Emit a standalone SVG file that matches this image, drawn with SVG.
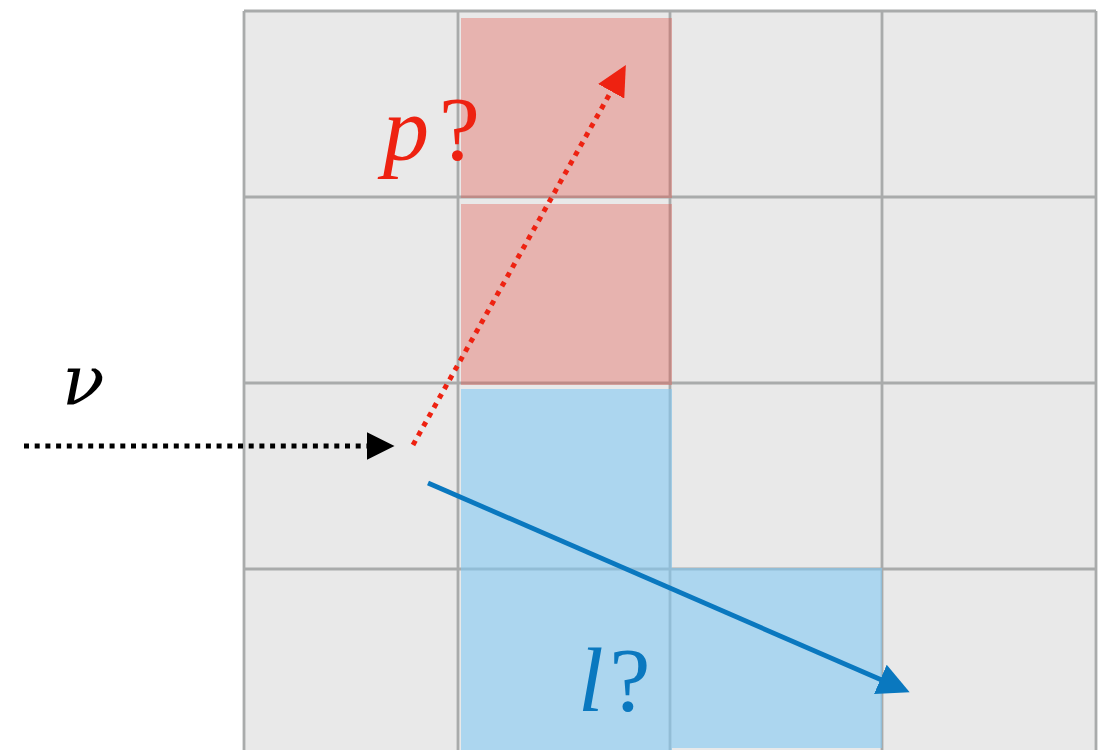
<svg xmlns="http://www.w3.org/2000/svg" width="1102" height="750" viewBox="0 0 1102 750">
<defs>
<style>
.grid{stroke:#a9abab;stroke-width:2.8;fill:none}
.lbl{font-family:"Liberation Serif","Times New Roman",serif;font-size:92px}
.nu{font-family:"DejaVu Serif",serif;font-size:70px;font-style:italic}
</style>
<marker id="ahRed" viewBox="0 0 8 8" refX="1" refY="4" markerWidth="30" markerHeight="30" orient="auto" markerUnits="userSpaceOnUse"><path d="M0,0 L8,4 L0,8 z" fill="#ee2211"/></marker>
<marker id="ahBlue" viewBox="0 0 8 8" refX="1" refY="4" markerWidth="32" markerHeight="32" orient="auto" markerUnits="userSpaceOnUse"><path d="M0,0 L8,4 L0,8 z" fill="#0a78bf"/></marker>
<marker id="ahBlk" viewBox="0 0 8 8" refX="1" refY="4" markerWidth="28" markerHeight="28" orient="auto" markerUnits="userSpaceOnUse"><path d="M0,0 L8,4 L0,8 z" fill="#000"/></marker>
</defs>
<rect width="1102" height="750" fill="#fff"/>
<g id="grid">
<rect x="244" y="11" width="852" height="745" fill="#e9e9e9"/>
<path class="grid" d="M244,11 V756 M458,11 V756 M670,11 V756 M882,11 V756 M1096,11 V756 M244,11 H1096 M244,197 H1096 M244,383 H1096 M244,569 H1096"/>
</g>
<g id="cells">
<rect id="red1" x="461" y="18" width="211" height="180" fill="rgb(230,80,70)" fill-opacity="0.35"/>
<rect id="red2" x="461" y="204" width="211" height="181" fill="rgb(230,80,70)" fill-opacity="0.35"/>
<rect id="blue1" x="461" y="389" width="211" height="361" fill="rgb(131,201,243)" fill-opacity="0.6"/>
<rect id="blue2" x="672" y="568" width="210" height="180" fill="rgb(131,201,243)" fill-opacity="0.6"/>
</g>
<g id="connectors">
<line x1="24" y1="446" x2="370" y2="446" stroke="#000" stroke-width="5" stroke-dasharray="5 5.7" marker-end="url(#ahBlk)"/>
<line x1="413" y1="445" x2="613" y2="88" stroke="#ee2211" stroke-width="5" stroke-dasharray="5 5.7" marker-end="url(#ahRed)"/>
<line x1="428" y1="483" x2="884" y2="681" stroke="#0a78bf" stroke-width="4.8" marker-end="url(#ahBlue)"/>
</g>
<g id="labels">
<text id="nu" class="nu" x="62" y="404" fill="#000">ν</text>
<text id="p" class="lbl" x="383" y="160" fill="#ee2211"><tspan font-style="italic">p</tspan><tspan dx="10">?</tspan></text>
<text id="l" class="lbl" x="578" y="711" fill="#0a78bf"><tspan font-style="italic">l</tspan><tspan dx="6">?</tspan></text>
</g>
</svg>
